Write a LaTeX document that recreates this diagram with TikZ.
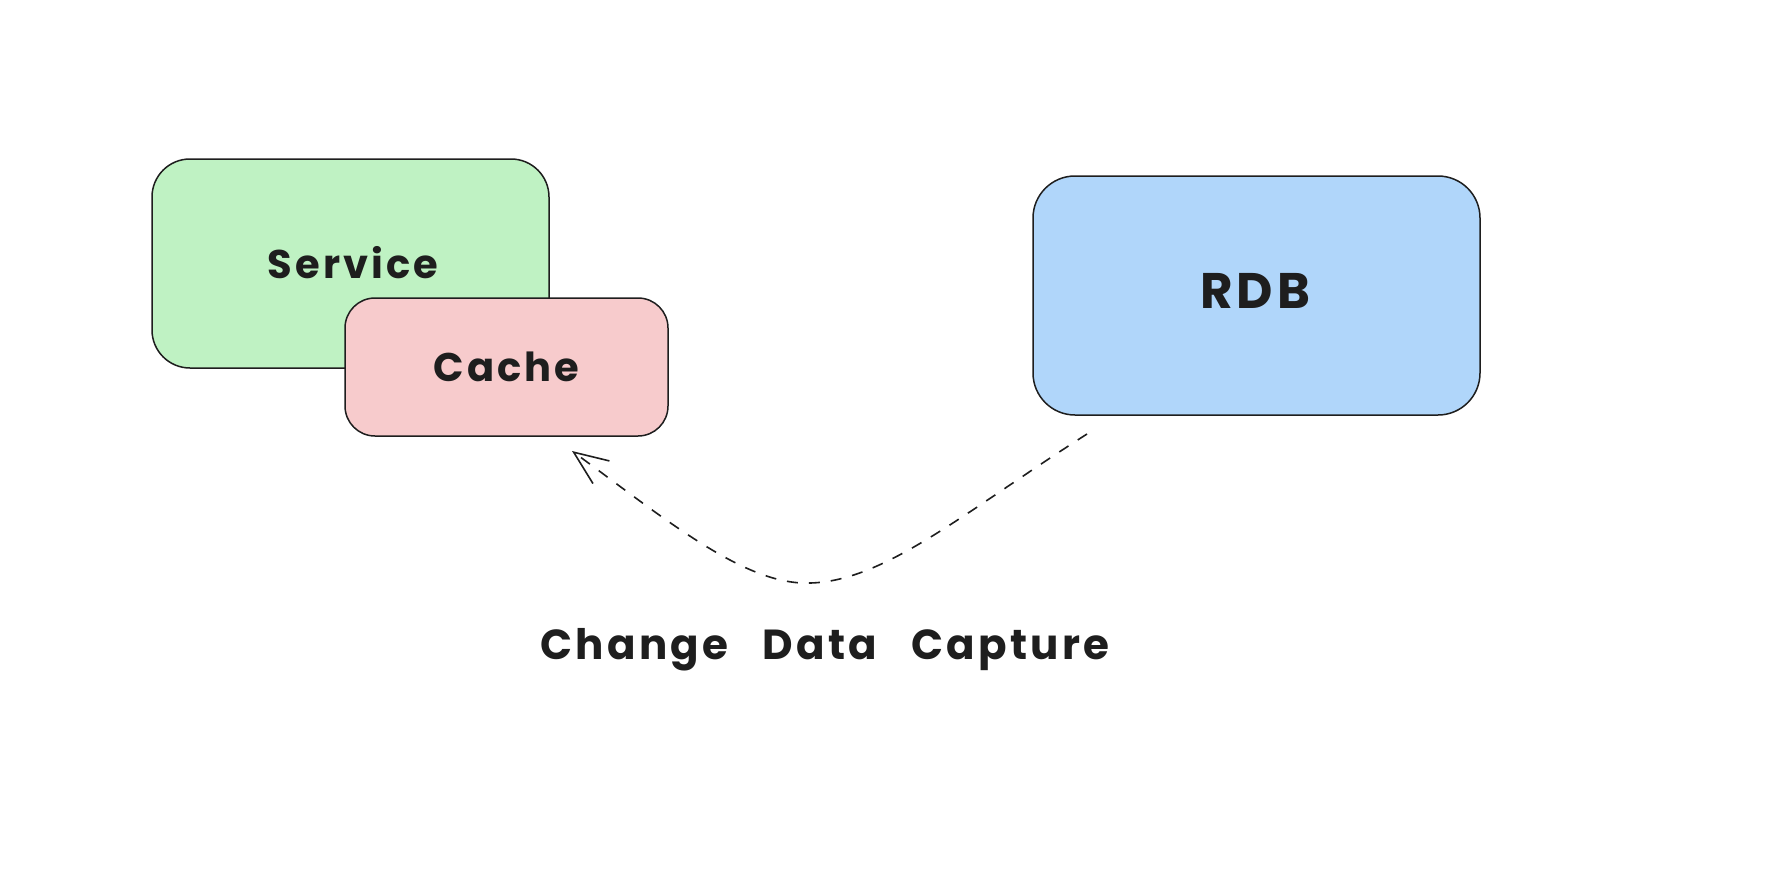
\documentclass[tikz,border=0pt]{standalone}
\usepackage{fontspec}
\newfontfamily\hand[LetterSpace=8]{Poppins}
\usetikzlibrary{arrows.meta}
\definecolor{ink}{HTML}{1E1E1E}
\definecolor{svcfill}{RGB}{191,242,195}
\definecolor{cachefill}{RGB}{247,203,204}
\definecolor{rdbfill}{RGB}{176,214,250}
\tikzset{
  box/.style={draw=ink, line width=1.5pt, rounded corners=38pt, font=\hand\bfseries\fontsize{40}{46}\selectfont, text=ink, inner sep=0pt},
  boxtext/.style={font=\hand\bfseries\fontsize{40}{46}\selectfont, text=ink, inner sep=0pt},
  flow/.style={draw=ink, line width=1.6pt, dash pattern=on 11pt off 11pt, -{Straight Barb[length=34pt,width=28pt,line width=1.6pt]}},
  lbl/.style={font=\hand\bfseries\fontsize{42}{48}\selectfont, text=ink, inner sep=0pt}
}
\begin{document}
\begin{tikzpicture}[x=1pt,y=-1pt]
\useasboundingbox[fill=white] (0,0) rectangle (1776,880);
\node[box, fill=svcfill, minimum width=397pt, minimum height=209pt] (svc) at (350.5,263.5) {};
\node[boxtext] (svct) at (353,263) {Service};
\node[box, fill=cachefill, rounded corners=30pt, minimum width=323pt, minimum height=138pt] (cache) at (506.5,367) {Cache};
\node[box, fill=rdbfill, rounded corners=42pt, minimum width=447pt, minimum height=239pt] (rdb) at (1256.5,295.5) {};
\node[boxtext, font=\hand\bfseries\fontsize{50}{56}\selectfont] (rdbt) at (1255,291) {RDB};
\coordinate (s) at (1087,434);
\coordinate (e) at (572,451);
\coordinate (b) at (804,583);
\draw[flow] (s) .. controls (960,515) and (880,585) .. (b) .. controls (740,582) and (660,515) .. (e);
\node[lbl] (cdc) at (825,650) {Change\hspace{34pt}Data\hspace{34pt}Capture};
\end{tikzpicture}
\end{document}
